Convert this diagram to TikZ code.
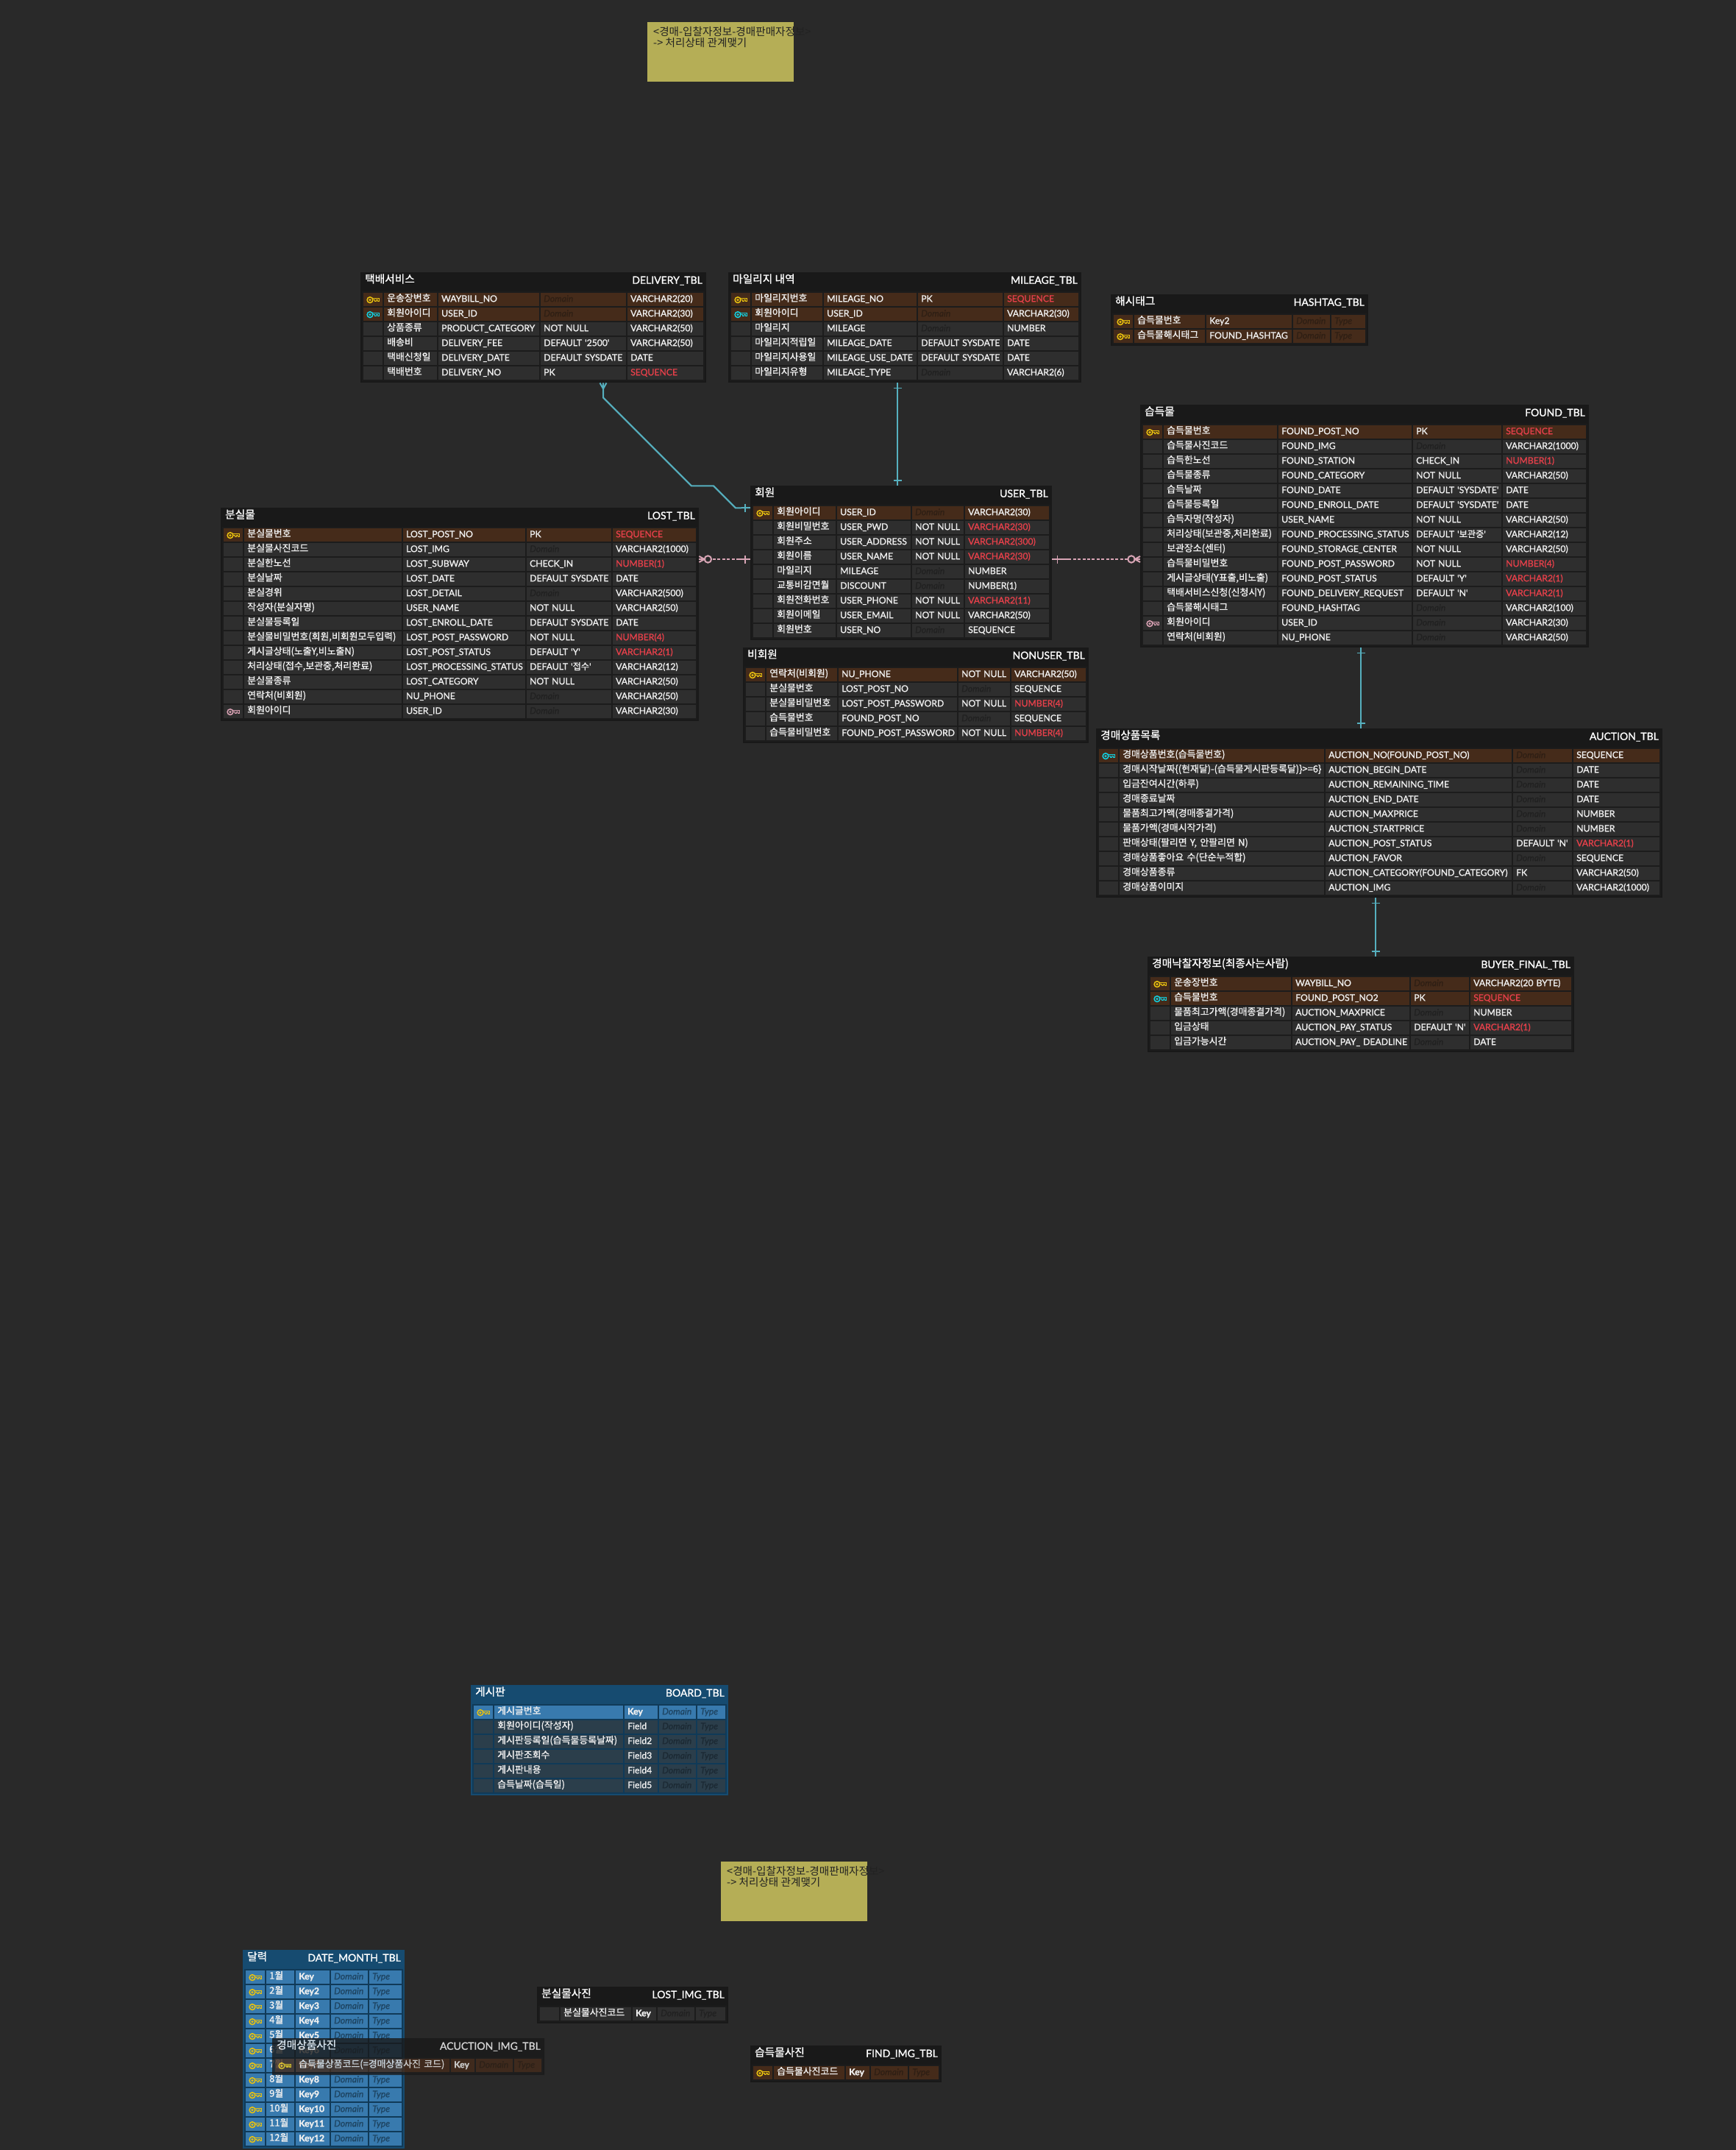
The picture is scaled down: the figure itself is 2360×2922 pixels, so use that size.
\documentclass[tikz,border=0pt]{standalone}
\usepackage{fontspec}
\usetikzlibrary{calc}
\newfontfamily\lat[FakeBold=1.2]{Lato}
\newfontfamily\kr[FakeBold=1.2]{Noto Sans CJK KR}
\newfontfamily\krnote{Noto Sans CJK KR}
\catcode`\_=12
\definecolor{bgC}{HTML}{292929}
\definecolor{txtC}{HTML}{F0F0F0}
\definecolor{redC}{HTML}{E5404A}
\definecolor{keyY}{HTML}{EBC30F}
\definecolor{keyC}{HTML}{12D2E2}
\definecolor{keyP}{HTML}{DBA3B5}
\definecolor{relB}{HTML}{56B0BF}
\definecolor{relP}{HTML}{D8A5B5}
\definecolor{noteC}{HTML}{B5AE56}
\definecolor{noteT}{HTML}{222222}
% dark theme
\definecolor{dkFrame}{HTML}{191919}
\definecolor{dkBand}{HTML}{1C1C1C}
\definecolor{dkPlain}{HTML}{2E2E2E}
\definecolor{dkKey}{HTML}{452B1A}
\definecolor{dkPlainDim}{HTML}{212121}
\definecolor{dkKeyDim}{HTML}{2F1F14}
% blue theme
\definecolor{blFrame}{HTML}{164B70}
\definecolor{blBand}{HTML}{103A58}
\definecolor{blPlain}{HTML}{2B3E4B}
\definecolor{blKey}{HTML}{387AAE}
\definecolor{blPlainDim}{HTML}{1C2A34}
\definecolor{blKeyDim}{HTML}{1E4563}
\tikzset{
  x=1pt,y=-1pt,
  framebox/.style={anchor=north west,inner sep=0pt,minimum height=#1},
  cellbox/.style={anchor=north west,inner xsep=4pt,inner ysep=0pt,minimum height=18pt,text=txtC,align=left},
  latcell/.style={text height=12pt,text depth=6pt,font=\fontsize{12.2}{14}\selectfont\lat},
  krcell/.style={text height=11.4pt,text depth=6.6pt,font=\fontsize{12.9}{14}\selectfont\kr},
  titleL/.style={anchor=base west,inner sep=0pt,text=white,font=\fontsize{14.7}{16}\selectfont\kr},
  titleR/.style={anchor=base east,inner sep=0pt,text=white,font=\fontsize{14}{16}\selectfont\lat},
  notebox/.style={anchor=north west,inner sep=0pt,fill=noteC,minimum width=199pt,minimum height=81pt},
  notetext/.style={anchor=north west,inner sep=0pt,align=left,text=noteT,font=\fontsize{14.6}{15.6}\selectfont\krnote},
  relblue/.style={draw=relB,line width=2pt},
  relpink/.style={draw=relP,line width=2pt},
  reldash/.style={draw=relP,line width=2pt,dash pattern=on 4pt off 2.4pt},
  erkey/.pic={
    \draw[pic actions,line width=1.5pt,fill=none] (-4.2,0.4) circle[radius=3.9pt];
    \draw[pic actions,line width=.9pt,fill=none] (-4.2,0.4) circle[radius=1.2pt];
    \draw[pic actions,line width=1.3pt,fill=none] (-0.6,-1.5) -- (8,-1.5) -- (8,2) -- (6,2) -- (6,.5) -- (4,.5) -- (4,2) -- (2.4,2) -- (2.4,.5) -- (-0.4,.5);
  }
}
\newcommand\erD{\textcolor{\dimC}{\itshape Domain}}
\newcommand\erT{\textcolor{\dimC}{\itshape Type}}
\newcommand\erR[1]{\textcolor{redC}{#1}}
\newcommand\erK{\textbf{Key}}
\newcommand\ertheme[1]{\def\frameC{#1Frame}\def\bandC{#1Band}\def\plainC{#1Plain}\def\keyCC{#1Key}\def\plainDim{#1PlainDim}\def\keyDim{#1KeyDim}}
% name, x1, y1, x2, rows, title, physical name
\newcommand\ertable[7]{%
  \def\tabN{#1}\def\tabX{#2}\def\tabY{#3}\def\rowI{0}%
  \pgfmathsetmacro\tabW{#4-#2}\pgfmathsetmacro\tabH{30+20*#5}%
  \pgfmathsetmacro\bandW{\tabW-4}\pgfmathsetmacro\bandH{\tabH-28}%
  \node[framebox=\tabH pt,minimum width=\tabW pt,fill=\frameC] (#1) at (#2,#3) {};
  \node[framebox=\bandH pt,minimum width=\bandW pt,fill=\bandC] (#1-band) at ($(#2,#3)+(2,26)$) {};
  \node[titleL] (#1-title) at ($(#2,#3)+(6,14.5)$) {#6};
  \node[titleR] (#1-phys) at ($(#4,#3)+(-5,15.7)$) {#7};
  \def\tabXR{#4}%
}
% column right edges
\newcommand\ercols[4]{%
  \pgfmathsetmacro\colXa{\tabX+4}\def\colEa{#1}%
  \pgfmathsetmacro\colXb{#1+2}\def\colEb{#2}%
  \pgfmathsetmacro\colXc{#2+2}\def\colEc{#3}%
  \pgfmathsetmacro\colXd{#3+2}\def\colEd{#4}%
  \pgfmathsetmacro\colXe{#4+2}\pgfmathsetmacro\colEe{\tabXR-4}%
  \pgfmathsetmacro\colWa{\colEa-\colXa}%
  \pgfmathsetmacro\colWb{\colEb-\colXb}%
  \pgfmathsetmacro\colWc{\colEc-\colXc}%
  \pgfmathsetmacro\colWd{\colEd-\colXd}%
  \pgfmathsetmacro\colWe{\colEe-\colXe}%
}
% key kind (y,c,p,n), key row flag, texts
\newcommand\errow[6]{%
  \pgfmathtruncatemacro\rowI{\rowI+1}%
  \pgfmathsetmacro\rowY{\tabY+8+20*\rowI}%
  \ifnum#2=1 \def\rowC{\keyCC}\def\dimC{\keyDim}\else \def\rowC{\plainC}\def\dimC{\plainDim}\fi
  \node[cellbox,fill=\rowC,minimum width=\colWa pt] (\tabN-r\rowI-k) at (\colXa,\rowY) {};
  \node[cellbox,krcell,fill=\rowC,minimum width=\colWb pt,text width=\colWb pt-8pt] (\tabN-r\rowI-a) at (\colXb,\rowY) {\mbox{#3}};
  \node[cellbox,latcell,fill=\rowC,minimum width=\colWc pt,text width=\colWc pt-8pt] (\tabN-r\rowI-b) at (\colXc,\rowY) {\mbox{#4}};
  \node[cellbox,latcell,fill=\rowC,minimum width=\colWd pt,text width=\colWd pt-8pt] (\tabN-r\rowI-c) at (\colXd,\rowY) {\mbox{#5}};
  \node[cellbox,latcell,fill=\rowC,minimum width=\colWe pt,text width=\colWe pt-8pt] (\tabN-r\rowI-d) at (\colXe,\rowY) {\mbox{#6}};
  \ifx#1y\pic[draw=keyY] at (\tabN-r\rowI-k.center) {erkey};\fi
  \ifx#1c\pic[draw=keyC] at (\tabN-r\rowI-k.center) {erkey};\fi
  \ifx#1p\pic[draw=keyP] at (\tabN-r\rowI-k.center) {erkey};\fi
}
\newcommand\krt[1]{{\kr #1}}
\begin{document}
\begin{tikzpicture}
\path[use as bounding box,fill=bgC] (0,0) rectangle (2360,2922);

% notes
\node[notebox] (note1) at (880,30) {};
\node[notetext] (note1text) at (888,36) {<경매-입찰자정보-경매판매자정보>\\-> 처리상태 관계맺기};
\node[notebox] (note2) at (980,2530) {};
\node[notetext] (note2text) at (988,2536) {<경매-입찰자정보-경매판매자정보>\\-> 처리상태 관계맺기};

\ertheme{dk}
\ertable{delivery}{490}{370}{960}{6}{택배서비스}{DELIVERY_TBL}
\ercols{520}{594}{733}{851}
\errow{y}{1}{운송장번호}{WAYBILL_NO}{\erD}{VARCHAR2(20)}
\errow{c}{1}{회원아이디}{USER_ID}{\erD}{VARCHAR2(30)}
\errow{n}{0}{상품종류}{PRODUCT_CATEGORY}{NOT NULL}{VARCHAR2(50)}
\errow{n}{0}{배송비}{DELIVERY_FEE}{DEFAULT '2500'}{VARCHAR2(50)}
\errow{n}{0}{택배신청일}{DELIVERY_DATE}{DEFAULT SYSDATE}{DATE}
\errow{n}{0}{택배번호}{DELIVERY_NO}{PK}{\erR{SEQUENCE}}

\ertable{mileage}{990}{370}{1470}{6}{마일리지 내역}{MILEAGE_TBL}
\ercols{1020}{1118}{1246}{1363}
\errow{y}{1}{마일리지번호}{MILEAGE_NO}{PK}{\erR{SEQUENCE}}
\errow{c}{1}{회원아이디}{USER_ID}{\erD}{VARCHAR2(30)}
\errow{n}{0}{마일리지}{MILEAGE}{\erD}{NUMBER}
\errow{n}{0}{마일리지적립일}{MILEAGE_DATE}{DEFAULT SYSDATE}{DATE}
\errow{n}{0}{마일리지사용일}{MILEAGE_USE_DATE}{DEFAULT SYSDATE}{DATE}
\errow{n}{0}{마일리지유형}{MILEAGE_TYPE}{\erD}{VARCHAR2(6)}

\ertable{hashtag}{1510}{400}{1860}{2}{해시태그}{HASHTAG_TBL}
\ercols{1540}{1638}{1756}{1808}
\errow{y}{1}{습득물번호}{Key2}{\erD}{\erT}
\errow{y}{1}{습득물해시태그}{FOUND_HASHTAG}{\erD}{\erT}

\ertable{lost}{300}{690}{950}{13}{분실물}{LOST_TBL}
\ercols{330}{546}{714}{831}
\errow{y}{1}{분실물번호}{LOST_POST_NO}{PK}{\erR{SEQUENCE}}
\errow{n}{0}{분실물사진코드}{LOST_IMG}{\erD}{VARCHAR2(1000)}
\errow{n}{0}{분실한노선}{LOST_SUBWAY}{CHECK_IN}{\erR{NUMBER(1)}}
\errow{n}{0}{분실날짜}{LOST_DATE}{DEFAULT SYSDATE}{DATE}
\errow{n}{0}{분실경위}{LOST_DETAIL}{\erD}{VARCHAR2(500)}
\errow{n}{0}{작성자(분실자명)}{USER_NAME}{NOT NULL}{VARCHAR2(50)}
\errow{n}{0}{분실물등록일}{LOST_ENROLL_DATE}{DEFAULT SYSDATE}{DATE}
\errow{n}{0}{분실물비밀번호(회원,비회원모두입력)}{LOST_POST_PASSWORD}{NOT NULL}{\erR{NUMBER(4)}}
\errow{n}{0}{게시글상태(노출Y,비노출N)}{LOST_POST_STATUS}{DEFAULT 'Y'}{\erR{VARCHAR2(1)}}
\errow{n}{0}{처리상태(접수,보관중,처리완료)}{LOST_PROCESSING_STATUS}{DEFAULT '\krt{접수}'}{VARCHAR2(12)}
\errow{n}{0}{분실물종류}{LOST_CATEGORY}{NOT NULL}{VARCHAR2(50)}
\errow{n}{0}{연락처(비회원)}{NU_PHONE}{\erD}{VARCHAR2(50)}
\errow{p}{0}{회원아이디}{USER_ID}{\erD}{VARCHAR2(30)}

\ertable{user}{1020}{660}{1430}{9}{회원}{USER_TBL}
\ercols{1050}{1136}{1238}{1310}
\errow{y}{1}{회원아이디}{USER_ID}{\erD}{VARCHAR2(30)}
\errow{n}{0}{회원비밀번호}{USER_PWD}{NOT NULL}{\erR{VARCHAR2(30)}}
\errow{n}{0}{회원주소}{USER_ADDRESS}{NOT NULL}{\erR{VARCHAR2(300)}}
\errow{n}{0}{회원이름}{USER_NAME}{NOT NULL}{\erR{VARCHAR2(30)}}
\errow{n}{0}{마일리지}{MILEAGE}{\erD}{NUMBER}
\errow{n}{0}{교통비감면월}{DISCOUNT}{\erD}{NUMBER(1)}
\errow{n}{0}{회원전화번호}{USER_PHONE}{NOT NULL}{\erR{VARCHAR2(11)}}
\errow{n}{0}{회원이메일}{USER_EMAIL}{NOT NULL}{VARCHAR2(50)}
\errow{n}{0}{회원번호}{USER_NO}{\erD}{SEQUENCE}

\ertable{nonuser}{1010}{880}{1480}{5}{비회원}{NONUSER_TBL}
\ercols{1040}{1138}{1301}{1373}
\errow{y}{1}{연락처(비회원)}{NU_PHONE}{NOT NULL}{VARCHAR2(50)}
\errow{n}{0}{분실물번호}{LOST_POST_NO}{\erD}{SEQUENCE}
\errow{n}{0}{분실물비밀번호}{LOST_POST_PASSWORD}{NOT NULL}{\erR{NUMBER(4)}}
\errow{n}{0}{습득물번호}{FOUND_POST_NO}{\erD}{SEQUENCE}
\errow{n}{0}{습득물비밀번호}{FOUND_POST_PASSWORD}{NOT NULL}{\erR{NUMBER(4)}}

\ertable{found}{1550}{550}{2160}{15}{습득물}{FOUND_TBL}
\ercols{1580}{1736}{1919}{2041}
\errow{y}{1}{습득물번호}{FOUND_POST_NO}{PK}{\erR{SEQUENCE}}
\errow{n}{0}{습득물사진코드}{FOUND_IMG}{\erD}{VARCHAR2(1000)}
\errow{n}{0}{습득한노선}{FOUND_STATION}{CHECK_IN}{\erR{NUMBER(1)}}
\errow{n}{0}{습득물종류}{FOUND_CATEGORY}{NOT NULL}{VARCHAR2(50)}
\errow{n}{0}{습득날짜}{FOUND_DATE}{DEFAULT 'SYSDATE'}{DATE}
\errow{n}{0}{습득물등록일}{FOUND_ENROLL_DATE}{DEFAULT 'SYSDATE'}{DATE}
\errow{n}{0}{습득자명(작성자)}{USER_NAME}{NOT NULL}{VARCHAR2(50)}
\errow{n}{0}{처리상태(보관중,처리완료)}{FOUND_PROCESSING_STATUS}{DEFAULT '\krt{보관중}'}{VARCHAR2(12)}
\errow{n}{0}{보관장소(센터)}{FOUND_STORAGE_CENTER}{NOT NULL}{VARCHAR2(50)}
\errow{n}{0}{습득물비밀번호}{FOUND_POST_PASSWORD}{NOT NULL}{\erR{NUMBER(4)}}
\errow{n}{0}{게시글상태(Y표출,비노출)}{FOUND_POST_STATUS}{DEFAULT 'Y'}{\erR{VARCHAR2(1)}}
\errow{n}{0}{택배서비스신청(신청시Y)}{FOUND_DELIVERY_REQUEST}{DEFAULT 'N'}{\erR{VARCHAR2(1)}}
\errow{n}{0}{습득물해시태그}{FOUND_HASHTAG}{\erD}{VARCHAR2(100)}
\errow{p}{0}{회원아이디}{USER_ID}{\erD}{VARCHAR2(30)}
\errow{n}{0}{연락처(비회원)}{NU_PHONE}{\erD}{VARCHAR2(50)}

\ertable{auction}{1490}{990}{2260}{10}{경매상품목록}{AUCTION_TBL}
\ercols{1520}{1800}{2055}{2137}
\errow{c}{1}{경매상품번호(습득물번호)}{AUCTION_NO(FOUND_POST_NO)}{\erD}{SEQUENCE}
\errow{n}{0}{경매시작날짜\{(현재달)-(습득물게시판등록달)\}>=6\}}{AUCTION_BEGIN_DATE}{\erD}{DATE}
\errow{n}{0}{입금잔여시간(하루)}{AUCTION_REMAINING_TIME}{\erD}{DATE}
\errow{n}{0}{경매종료날짜}{AUCTION_END_DATE}{\erD}{DATE}
\errow{n}{0}{물품최고가액(경매종결가격)}{AUCTION_MAXPRICE}{\erD}{NUMBER}
\errow{n}{0}{물품가액(경매시작가격)}{AUCTION_STARTPRICE}{\erD}{NUMBER}
\errow{n}{0}{판매상태(팔리면 Y, 안팔리면 N)}{AUCTION_POST_STATUS}{DEFAULT 'N'}{\erR{VARCHAR2(1)}}
\errow{n}{0}{경매상품좋아요 수(단순누적합)}{AUCTION_FAVOR}{\erD}{SEQUENCE}
\errow{n}{0}{경매상품종류}{AUCTION_CATEGORY(FOUND_CATEGORY)}{FK}{VARCHAR2(50)}
\errow{n}{0}{경매상품이미지}{AUCTION_IMG}{\erD}{VARCHAR2(1000)}

\ertable{buyer}{1560}{1300}{2140}{5}{경매낙찰자정보(최종사는사람)}{BUYER_FINAL_TBL}
\ercols{1590}{1755}{1916}{1997}
\errow{y}{1}{운송장번호}{WAYBILL_NO}{\erD}{VARCHAR2(20 BYTE)}
\errow{c}{1}{습득물번호}{FOUND_POST_NO2}{PK}{\erR{SEQUENCE}}
\errow{n}{0}{물품최고가액(경매종결가격)}{AUCTION_MAXPRICE}{\erD}{NUMBER}
\errow{n}{0}{입금상태}{AUCTION_PAY_STATUS}{DEFAULT 'N'}{\erR{VARCHAR2(1)}}
\errow{n}{0}{입금가능시간}{AUCTION_PAY_ DEADLINE}{\erD}{DATE}

\ertheme{bl}
\ertable{board}{640}{2290}{990}{6}{게시판}{BOARD_TBL}
\ercols{670}{847}{894}{946}
\errow{y}{1}{게시글번호}{\erK}{\erD}{\erT}
\errow{n}{0}{회원아이디(작성자)}{Field}{\erD}{\erT}
\errow{n}{0}{게시판등록일(습득물등록날짜)}{Field2}{\erD}{\erT}
\errow{n}{0}{게시판조회수}{Field3}{\erD}{\erT}
\errow{n}{0}{게시판내용}{Field4}{\erD}{\erT}
\errow{n}{0}{습득날짜(습득일)}{Field5}{\erD}{\erT}

\ertable{datemonth}{330}{2650}{550}{12}{달력}{DATE_MONTH_TBL}
\ercols{360}{400}{448}{500}
\errow{y}{1}{1월}{\erK}{\erD}{\erT}
\errow{y}{1}{2월}{\textbf{Key2}}{\erD}{\erT}
\errow{y}{1}{3월}{\textbf{Key3}}{\erD}{\erT}
\errow{y}{1}{4월}{\textbf{Key4}}{\erD}{\erT}
\errow{y}{1}{5월}{\textbf{Key5}}{\erD}{\erT}
\errow{y}{1}{6월}{\textbf{Key6}}{\erD}{\erT}
\errow{y}{1}{7월}{\textbf{Key7}}{\erD}{\erT}
\errow{y}{1}{8월}{\textbf{Key8}}{\erD}{\erT}
\errow{y}{1}{9월}{\textbf{Key9}}{\erD}{\erT}
\errow{y}{1}{10월}{\textbf{Key10}}{\erD}{\erT}
\errow{y}{1}{11월}{\textbf{Key11}}{\erD}{\erT}
\errow{y}{1}{12월}{\textbf{Key12}}{\erD}{\erT}

\ertheme{dk}
\begin{scope}[transparency group,opacity=.8]
\ertable{acuction}{370}{2770}{740}{1}{경매상품사진}{ACUCTION_IMG_TBL}
\ercols{400}{611}{645}{697}
\errow{y}{1}{습득물상품코드(=경매상품사진 코드)}{\erK}{\erD}{\erT}
\end{scope}

\ertable{lostimg}{730}{2700}{990}{1}{분실물사진}{LOST_IMG_TBL}
\ercols{760}{858}{892}{944}
\errow{n}{0}{분실물사진코드}{\erK}{\erD}{\erT}

\ertable{findimg}{1020}{2780}{1280}{1}{습득물사진}{FIND_IMG_TBL}
\ercols{1050}{1148}{1182}{1234}
\errow{y}{1}{습득물사진코드}{\erK}{\erD}{\erT}

% connectors
% DELIVERY -- USER
\coordinate (dB) at ([xshift=330pt]delivery.south west);
\coordinate (uL) at ([yshift=-30pt]user.north west);
\draw[relblue] (dB) -- ++(0,20) -- ++(120,120) -- ++(30,0) -- ++(30,30) -- (uL);
\draw[relblue] ([xshift=-4.5pt]dB) -- ++(4.5,8) -- ++(4.5,-8);
\draw[relblue,line width=1.6pt] ([xshift=-7pt]uL) ++(0,-5.5) -- ++(0,11);
% MILEAGE -- USER
\coordinate (mB) at ([xshift=230pt]mileage.south west);
\coordinate (uT) at (user.north -| mB);
\draw[relblue] (mB) -- (uT);
\draw[relblue,line width=1.6pt] ([yshift=-7pt]mB) ++(-5.5,0) -- ++(11,0);
\draw[relblue,line width=1.6pt] ([yshift=7pt]uT) ++(-5.5,0) -- ++(11,0);
% FOUND -- AUCTION
\coordinate (fB) at ([xshift=300pt]found.south west);
\coordinate (aT) at (auction.north -| fB);
\draw[relblue] (fB) -- (aT);
\draw[relblue,line width=1.6pt] ([yshift=-7pt]fB) ++(-5.5,0) -- ++(11,0);
\draw[relblue,line width=1.6pt] ([yshift=7pt]aT) ++(-5.5,0) -- ++(11,0);
% AUCTION -- BUYER
\coordinate (aB) at ([xshift=380pt]auction.south west);
\coordinate (bT) at (buyer.north -| aB);
\draw[relblue] (aB) -- (bT);
\draw[relblue,line width=1.6pt] ([yshift=-7pt]aB) ++(-5.5,0) -- ++(11,0);
\draw[relblue,line width=1.6pt] ([yshift=7pt]bT) ++(-5.5,0) -- ++(11,0);
% USER -- LOST
\coordinate (lR) at ([yshift=-70pt]lost.north east);
\coordinate (uW) at ([yshift=-100pt]user.north west);
\draw[relpink] (uW) -- ++(-15,0) coordinate (uW1);
\draw[reldash] (uW1) -- ($(lR)+(12,0)$);
\draw[relpink,fill=bgC] ($(lR)+(12,0)$) circle[radius=4.7pt];
\draw[relpink] ($(lR)+(7.3,0)$) -- (lR);
\draw[relpink] ($(lR)+(0,-4)$) -- ++(7.3,4) -- ++(-7.3,4);
\draw[relpink,line width=1.6pt] ([xshift=-7pt]uW) ++(0,-5.5) -- ++(0,11);
% USER -- FOUND
\coordinate (uE) at ([yshift=-100pt]user.north east);
\coordinate (fL) at ([yshift=-210pt]found.north west);
\draw[relpink] (uE) -- ++(22,0) coordinate (uE1);
\draw[reldash] (uE1) -- ($(fL)+(-12,0)$);
\draw[relpink,fill=bgC] ($(fL)+(-12,0)$) circle[radius=4.7pt];
\draw[relpink] ($(fL)+(-7.3,0)$) -- (fL);
\draw[relpink] ($(fL)+(0,-4)$) -- ++(-7.3,4) -- ++(7.3,4);
\draw[relpink,line width=1.6pt] ([xshift=7pt]uE) ++(0,-5.5) -- ++(0,11);
\end{tikzpicture}
\end{document}
